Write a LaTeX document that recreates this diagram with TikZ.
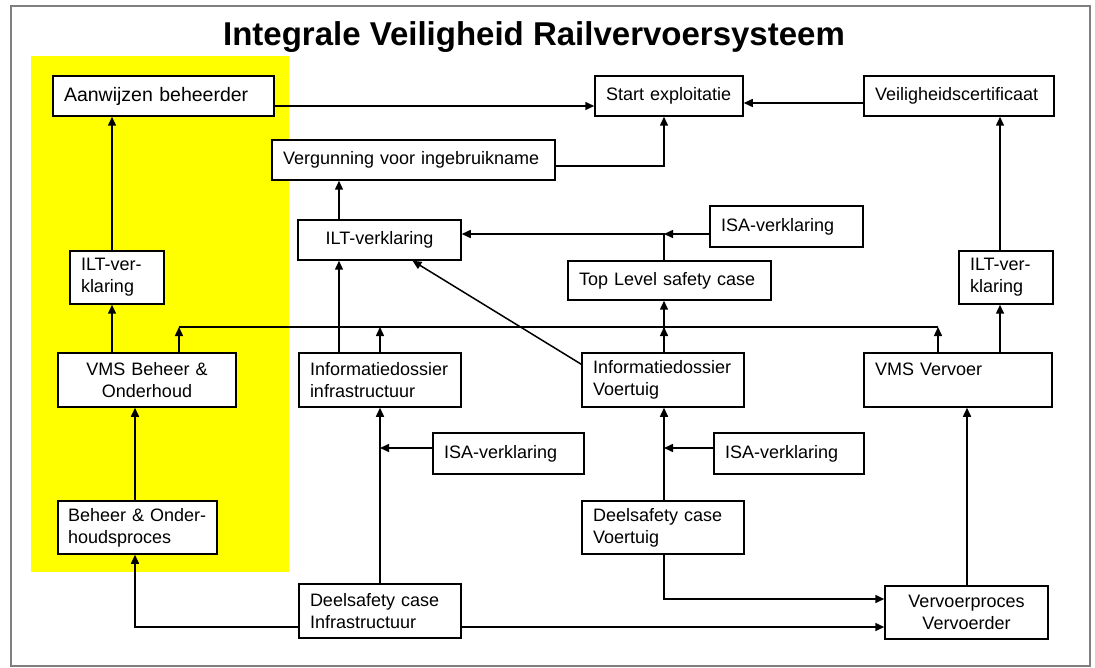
\documentclass[tikz,border=0pt]{standalone}
\usepackage{fontspec}
\setmainfont{Liberation Sans}
\usetikzlibrary{arrows.meta,calc,positioning}
\definecolor{Geel}{HTML}{FFFF00}
\definecolor{Kader}{HTML}{7F7F7F}

\tikzset{
  blok/.style={draw, line width=1.5pt, fill=white, inner xsep=11pt, inner ysep=0pt,
    align=left, font=\fontsize{18}{22}\selectfont},
  pijl/.style={line width=1.5pt, -{Triangle[length=9pt,width=8pt]}},
  lijn/.style={line width=1.5pt},
}

\begin{document}
\begin{tikzpicture}[x=1pt,y=-1pt]
  \useasboundingbox (0,0) rectangle (1095,668);
  \fill[white] (0,0) rectangle (1095,668);
  \draw[Kader, line width=2pt] (11,6) rectangle (1090,666);
  \fill[Geel] (31,56) rectangle (289,572);

  \node[font=\bfseries\fontsize{33}{38}\selectfont, anchor=base] (titel) at (534,46)
    {Integrale Veiligheid Railvervoersysteem};

  % bovenste rij
  \node[blok, font=\fontsize{19.5}{22}\selectfont, text width=199pt, minimum height=40pt] (aanwijzen) at (163.5,96) {Aanwijzen beheerder};
  \node[blok, text width=126pt, minimum height=40pt] (start) at (669,96) {Start exploitatie};
  \node[blok, text width=168pt, minimum height=40pt] (certificaat) at (959,96) {Veiligheidscertificaat};
  \node[blok, text width=261pt, minimum height=40pt] (vergunning) at (413.5,160) {Vergunning voor ingebruikname};
  \node[blok, align=center, text width=141pt, minimum height=40pt] (iltmid) at (379.5,240) {ILT-verklaring};
  \node[blok, text width=131pt, minimum height=41pt] (isatop) at (786.5,226.5) {ISA-verklaring};
  \node[blok, text width=181pt, minimum height=39pt] (toplevel) at (669.5,280.5) {Top Level safety case};
  \node[blok, text width=72pt, minimum height=53pt] (iltrechts) at (1006,277.5) {ILT-ver-\\klaring};
  \node[blok, text width=72pt, minimum height=53pt] (iltlinks) at (117,277.5) {ILT-ver-\\klaring};

  % middelste rij
  \node[blok, align=center, text width=156pt, minimum height=54pt] (vmsbeheer) at (147,380) {VMS Beheer \&\\Onderhoud};
  \node[blok, text width=140pt, minimum height=54pt] (infoinfra) at (380,380) {Informatiedossier\\infrastructuur};
  \node[blok, text width=140pt, minimum height=54pt] (infovoertuig) at (663,380) {Informatiedossier\\Voertuig};
  \node[blok, text width=166pt, minimum height=54pt] (vmsvervoer) at (958,380) {VMS Vervoer\\\mbox{}};
  \node[blok, text width=129pt, minimum height=41pt] (isainfra) at (508.5,453.5) {ISA-verklaring};
  \node[blok, text width=128pt, minimum height=41pt] (isavoertuig) at (789,453.5) {ISA-verklaring};

  % onderste rij
  \node[blok, inner xsep=10pt, text width=139pt, minimum height=53pt] (beheerproces) at (137.5,527.5) {Beheer \& Onder-\\houdsproces};
  \node[blok, text width=140pt, minimum height=53pt] (deelvoertuig) at (663,527.5) {Deelsafety case\\Voertuig};
  \node[blok, text width=140pt, minimum height=54pt] (deelinfra) at (380,611) {Deelsafety case\\Infrastructuur};
  \node[blok, align=center, text width=141pt, minimum height=53pt] (vervoerproces) at (966.5,612.5) {Vervoerproces\\Vervoerder};

  % rails
  \coordinate (xa) at (112,0);
  \coordinate (xb) at (135,0);
  \coordinate (xbus) at (179,0);
  \coordinate (xc) at (339,0);
  \coordinate (xd) at (380,0);
  \coordinate (xe) at (664,0);
  \coordinate (xf) at (938,0);
  \coordinate (xh) at (967,0);
  \coordinate (xg) at (1000,0);
  \coordinate (ybus) at (0,327);
  \coordinate (ystart) at (0,106);
  \coordinate (ycert) at (0,103);
  \coordinate (yilt) at (0,234);
  \coordinate (yisa) at (0,448);
  \coordinate (yvoer) at (0,599);
  \coordinate (yinfra) at (0,627);

  % links
  \draw[pijl] (xa |- iltlinks.north) -- (xa |- aanwijzen.south);
  \draw[pijl] (xa |- vmsbeheer.north) -- (xa |- iltlinks.south);
  \draw[pijl] (xb |- beheerproces.north) -- (xb |- vmsbeheer.south);
  \draw[pijl] (deelinfra.west |- yinfra) -| (xb |- beheerproces.south);
  \draw[pijl] (deelinfra.east |- yinfra) -- (vervoerproces.west |- yinfra);

  % bus
  \draw[lijn] (xbus |- ybus) -- (xf |- ybus);
  \draw[pijl] (xbus |- vmsbeheer.north) -- (xbus |- ybus);
  \draw[pijl] (xd |- infoinfra.north) -- (xd |- ybus);
  \draw[pijl] (xe |- infovoertuig.north) -- (xe |- ybus);
  \draw[pijl] (xf |- vmsvervoer.north) -- (xf |- ybus);

  % infrastructuur
  \draw[pijl] (xd |- deelinfra.north) -- (xd |- infoinfra.south);
  \draw[pijl] (isainfra.west |- yisa) -- (xd |- yisa);
  \draw[pijl] (xc |- infoinfra.north) -- (xc |- iltmid.south);
  \draw[pijl] (xc |- iltmid.north) -- (xc |- vergunning.south);
  \draw[pijl] ([yshift=-12pt]infovoertuig.north west) -- ([xshift=33pt]iltmid.south);

  % voertuig
  \draw[pijl] (xe |- deelvoertuig.north) -- (xe |- infovoertuig.south);
  \draw[pijl] (isavoertuig.west |- yisa) -- (xe |- yisa);
  \draw[pijl] (xe |- deelvoertuig.south) |- (vervoerproces.west |- yvoer);
  \draw[pijl] (xe |- infovoertuig.north) -- (xe |- toplevel.south);
  \draw[pijl] (xe |- toplevel.north) |- (iltmid.east |- yilt);
  \draw[pijl] (isatop.west |- yilt) -- (xe |- yilt);

  % start exploitatie
  \draw[pijl] (aanwijzen.east |- ystart) -- (start.west |- ystart);
  \draw[pijl] (certificaat.west |- ycert) -- (start.east |- ycert);
  \draw[pijl] ([yshift=-6pt]vergunning.east) -| (xe |- start.south);

  % vervoer
  \draw[pijl] (xh |- vervoerproces.north) -- (xh |- vmsvervoer.south);
  \draw[pijl] (xg |- vmsvervoer.north) -- (xg |- iltrechts.south);
  \draw[pijl] (xg |- iltrechts.north) -- (xg |- certificaat.south);
\end{tikzpicture}
\end{document}
